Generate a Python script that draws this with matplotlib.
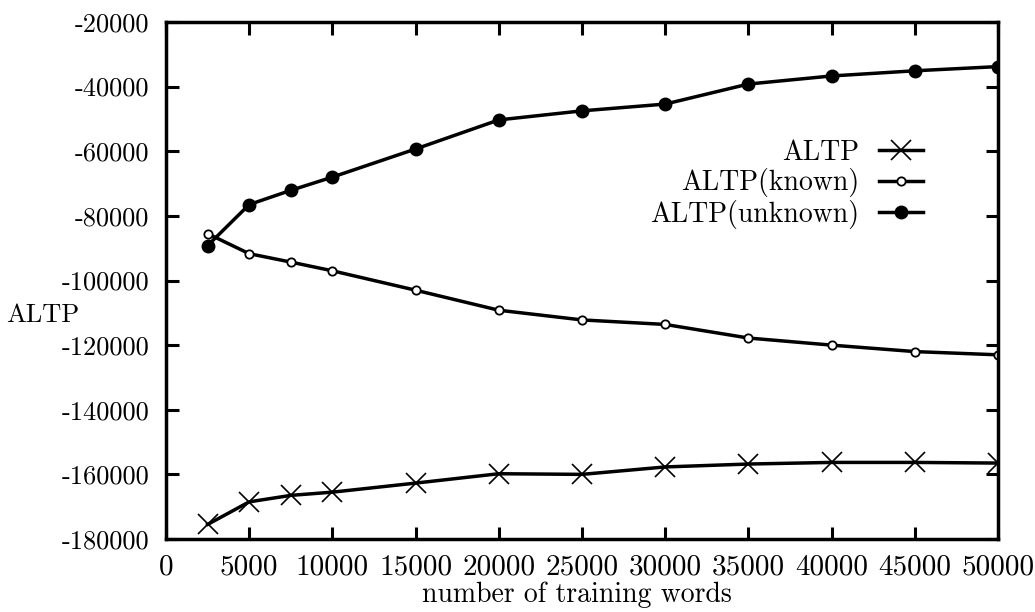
import matplotlib
matplotlib.use('Agg')
import matplotlib.pyplot as plt

plt.rcParams['font.family'] = ['cmr10', 'DejaVu Serif']
plt.rcParams['axes.unicode_minus'] = False

# training set sizes
words = [2500, 5000, 7500, 10000, 15000, 20000, 25000, 30000, 35000, 40000, 45000, 50000]

# values
altp = [-175500, -168500, -166500, -165500, -162700, -159800,
        -160000, -157700, -156800, -156300, -156300, -156500]
altp_known = [-85500, -91700, -94300, -97000, -103000, -109200,
              -112200, -113600, -117800, -120000, -122000, -123000]
altp_unknown = [-89200, -76500, -72100, -68000, -59300, -50300,
                -47500, -45400, -39200, -36700, -35100, -33800]

xticks = list(range(0, 50001, 5000))
yticks = list(range(-180000, -19999, 20000))

fig = plt.figure(figsize=(10.35, 6.12), dpi=100)
ax = fig.add_axes([166 / 1035, 1 - 539 / 612, 832 / 1035, 517 / 612])

ax.plot(words, altp, color='black', lw=2.5, marker='x', ms=15, mew=1.2, label='ALTP')
ax.plot(words, altp_known, color='black', lw=2.5, marker='o', ms=6,
        mfc='white', mec='black', mew=1.3, label='ALTP(known)')
ax.plot(words, altp_unknown, color='black', lw=2.5, marker='o', ms=9,
        mfc='black', mec='black', label='ALTP(unknown)')

ax.set_xlim(0, 50000)
ax.set_ylim(-180000, -20000)
ax.set_xticks(xticks)
ax.set_xticklabels([str(t) for t in xticks])
ax.set_yticks(yticks)
ax.set_yticklabels([str(t) for t in yticks])

ax.tick_params(direction='in', length=9, width=2.2, top=True, right=True, colors='black')
ax.tick_params(axis='x', pad=11, labelsize=21)
ax.tick_params(axis='y', pad=12, labelsize=19)
for sp in ax.spines.values():
    sp.set_linewidth(2.5)

ax.set_xlabel('number of training words', fontsize=20, va='center')
ax.xaxis.set_label_coords(0.494, -0.108)
ax.set_ylabel('ALTP', fontsize=19, rotation=0, ha='center', va='center')
ax.yaxis.set_label_coords(-0.148, 0.433)

leg = ax.legend(loc='upper right', bbox_to_anchor=(0.91, 0.772), frameon=False,
                markerfirst=False, fontsize=20, handlelength=1.6, handletextpad=0.7,
                labelspacing=0.08, borderpad=0, borderaxespad=0)
for t in leg.get_texts():
    t.set_ha('right')

fig.savefig('out.png', dpi=100)
